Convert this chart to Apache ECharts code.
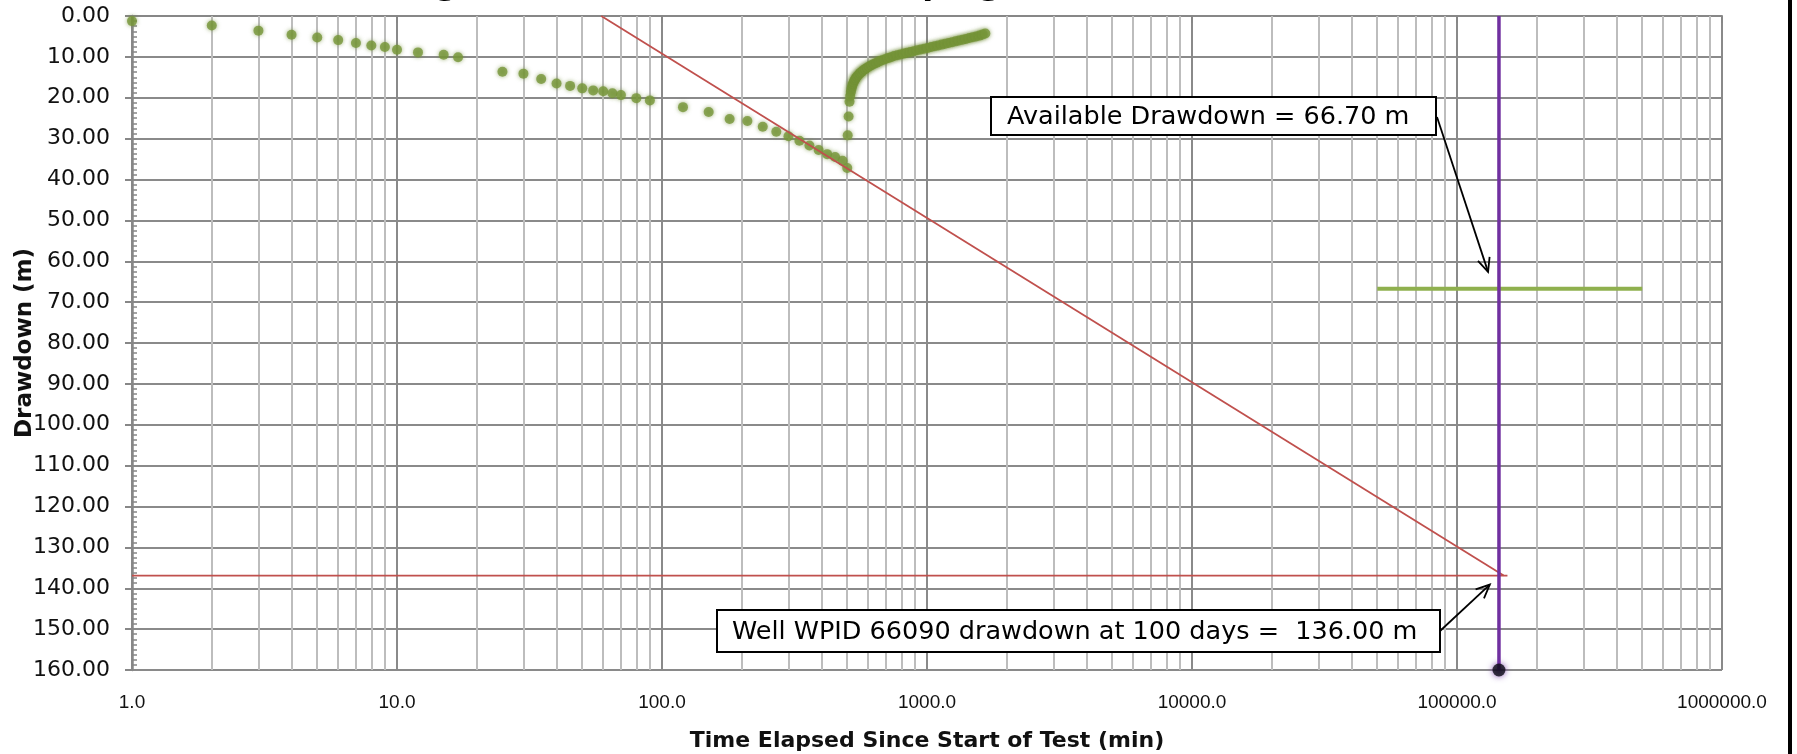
<!DOCTYPE html>
<html><head><meta charset="utf-8">
<script src="https://cdn.jsdelivr.net/npm/echarts@6/dist/echarts.min.js"></script>
<style>html,body{margin:0;padding:0;background:#fff;}#c{width:1797px;height:754px;}</style>
</head><body><div id="c"></div>
<script>
// ---- data ----
const pumpTime = [1,2,3,4,5,6,7,8,9,10,12,15,17,25,30,35,40,45,50,55,60,65,70,80,90,120,150,180,210,240,270,300,330,360,390,420,450,480,500];
const pumpDrawdown = [1.25,2.33,3.58,4.58,5.25,5.9,6.6,7.2,7.6,8.25,8.9,9.5,10.1,13.66,14.1,15.4,16.5,17.1,17.7,18.2,18.4,18.9,19.35,20.1,20.65,22.3,23.5,25.2,25.7,27.1,28.3,29.4,30.5,31.7,32.8,33.8,34.5,35.4,37.2];
const recTime = [502,506,510,513,516,519,522,526,530,535,540,546,553,560,568,577,586,596,607,619,632,646,661,677,694,712,731,751,772,794,817,841,866,892,919,947,976,1006,1037,1069,1102,1136,1171,1207,1244,1282,1321,1361,1402,1444,1487,1531,1576,1622,1660];
const recDrawdown = [29.2,24.6,21.0,19.6,18.6,17.8,17.1,16.5,16.0,15.5,15.1,14.7,14.3,13.9,13.6,13.2,12.9,12.6,12.3,12.0,11.7,11.4,11.1,10.8,10.6,10.3,10.1,9.8,9.6,9.4,9.2,9.0,8.8,8.6,8.4,8.2,8.0,7.8,7.6,7.4,7.2,7.0,6.8,6.6,6.4,6.2,6.0,5.8,5.6,5.4,5.2,5.0,4.8,4.5,4.3];
const fitTime = [59, 150000];
const fitDrawdown = [0, 136.9];
const predLevelTime = [1, 155000];
const predLevel = 136.9;
const availTime = [50000, 500000];
const availDrawdown = 66.70;
const time100Days = 144000;
const yRange = [0, 160];
const xRange = [1, 1000000];
const availText = 'Available Drawdown = 66.70 m';
const predText = 'Well WPID 66090 drawdown at 100 days =  136.00 m';
const titleText = 'Drawdown vs Log Time for Well 66090 Pumping Test';

// minor vertical grid positions (2..9 in each decade)
const minorX = [];
for (let d = 1; d < xRange[1]; d *= 10) for (let k = 2; k <= 9; k++) minorX.push(d * k);

const chart = echarts.init(document.getElementById('c'), null, {renderer: 'canvas'});
const axisGray = '#878787';
const option = {
  animation: false,
  backgroundColor: '#fff',
  grid: {left: 132, right: 75, top: 16, bottom: 84, outerBoundsMode: 'none'},
  xAxis: {
    type: 'log', logBase: 10, min: xRange[0], max: xRange[1], splitNumber: 6,
    name: 'Time Elapsed Since Start of Test (min)', nameLocation: 'middle', nameGap: 60,
    nameTextStyle: {fontFamily: 'DejaVu Sans', fontWeight: 'bold', fontSize: 22, color: '#111'},
    axisLine: {lineStyle: {color: axisGray, width: 2}},
    axisTick: {length: 7, lineStyle: {color: axisGray, width: 2}},
    axisLabel: {margin: 23, fontFamily: 'Liberation Sans', fontSize: 19, color: '#111', formatter: v => Number(v).toFixed(1)},
    splitLine: {show: true, lineStyle: {color: '#8a8a8a', width: 2}},
    minorTick: {show: false}, minorSplitLine: {show: false}
  },
  yAxis: [{
    type: 'value', inverse: true, min: yRange[0], max: yRange[1], interval: 10,
    name: 'Drawdown (m)', nameLocation: 'middle', nameGap: 95, nameRotate: 90, nameMoveOverlap: false,
    nameTextStyle: {fontFamily: 'DejaVu Sans', fontWeight: 'bold', fontSize: 23, color: '#111'},
    axisLine: {show: true, lineStyle: {color: axisGray, width: 2.5}},
    axisTick: {show: true, length: 7, lineStyle: {color: axisGray, width: 2}},
    axisLabel: {margin: 22, fontFamily: 'DejaVu Sans', fontSize: 22, color: '#111', formatter: v => v.toFixed(2)},
    splitLine: {show: true, lineStyle: {color: '#8a8a8a', width: 2}}
  }, {
    type: 'value', inverse: true, min: yRange[0], max: yRange[1], interval: 10, position: 'left',
    axisLine: {show: false}, axisTick: {show: false, inside: true},
    minorTick: {show: true, splitNumber: 8, length: 5, lineStyle: {color: axisGray, width: 1.5}},
    axisLabel: {show: false}, splitLine: {show: false}
  }],
  series: [
    {type: 'lines', coordinateSystem: 'cartesian2d', silent: true, z: 1,
     lineStyle: {color: '#bdbdbd', width: 2, opacity: 1},
     data: minorX.map(v => ({coords: [[v, yRange[0]], [v, yRange[1]]]}))},
    {name: 'Pumping', type: 'scatter', z: 3, symbol: 'circle', symbolSize: 10,
     itemStyle: {color: '#77963a', shadowBlur: 4, shadowColor: 'rgba(110,140,50,0.8)'},
     data: pumpTime.map((t, i) => [t, pumpDrawdown[i]])},
    {name: 'Recovery', type: 'scatter', z: 3, symbol: 'circle', symbolSize: 10,
     itemStyle: {color: '#77963a', shadowBlur: 4, shadowColor: 'rgba(110,140,50,0.8)'},
     data: recTime.map((t, i) => [t, recDrawdown[i]])},
    {name: 'Fit', type: 'line', z: 4, symbol: 'none', lineStyle: {color: '#c0504d', width: 1.8},
     data: fitTime.map((t, i) => [t, fitDrawdown[i]])},
    {name: 'Predicted', type: 'line', z: 4, symbol: 'none', lineStyle: {color: '#c0504d', width: 1.8},
     data: predLevelTime.map(t => [t, predLevel])},
    {name: 'Available', type: 'line', z: 4, symbol: 'none', lineStyle: {color: '#8fb04e', width: 4},
     data: availTime.map(t => [t, availDrawdown])},
    {name: '100 days', type: 'line', z: 5, symbol: 'none', lineStyle: {color: '#7030a0', width: 3.5},
     data: yRange.map(s => [time100Days, s])},
    {name: 'Marker', type: 'scatter', z: 6, clip: false, symbolSize: 13,
     itemStyle: {color: '#0b0b14', shadowBlur: 6, shadowColor: '#6a2aa0'},
     data: [[time100Days, yRange[1]]]}
  ]
};
chart.setOption(option);

function px(t, s) { return chart.convertToPixel({xAxisIndex: 0, yAxisIndex: 0}, [t, s]); }
function arrow(from, to) {
  const ang = Math.atan2(to[1] - from[1], to[0] - from[0]);
  const L = 15, a = 0.42;
  const p1 = [to[0] - L * Math.cos(ang - a), to[1] - L * Math.sin(ang - a)];
  const p2 = [to[0] - L * Math.cos(ang + a), to[1] - L * Math.sin(ang + a)];
  return [
    {type: 'line', shape: {x1: from[0], y1: from[1], x2: to[0], y2: to[1]}, style: {stroke: '#000', lineWidth: 1.8}, z: 20},
    {type: 'polyline', shape: {points: [p1, to, p2]}, style: {stroke: '#000', lineWidth: 1.8, fill: null}, z: 20}
  ];
}
function box(x1, y1, x2, y2, text, tx) {
  return [
    {type: 'rect', shape: {x: x1, y: y1, width: x2 - x1, height: y2 - y1}, style: {fill: '#fff', stroke: '#000', lineWidth: 2}, z: 19},
    {type: 'text', x: tx, y: (y1 + y2) / 2 + 1, style: {text: text, font: '25.5px "DejaVu Sans"', fill: '#000', verticalAlign: 'middle', align: 'left'}, z: 21}
  ];
}
const el = [];
el.push(...box(991, 97, 1436, 135, availText, 1007));
el.push(...box(717, 610, 1440, 652, predText, 732));
el.push(...arrow([1437, 117], px(1.31e5, 62.6)));
el.push(...arrow([1440, 631], px(1.33e5, 139.1)));
el.push({type: 'text', x: 140, y: -14, style: {text: titleText, font: 'bold 32px "DejaVu Sans"', fill: '#000', verticalAlign: 'middle'}, z: 30});
el.push({type: 'rect', shape: {x: 1788, y: 0, width: 4, height: 754}, style: {fill: '#000'}, z: 30});
chart.setOption({graphic: {elements: el}});
</script></body></html>
